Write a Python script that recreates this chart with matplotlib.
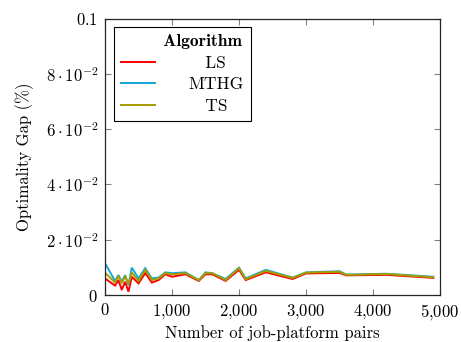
import matplotlib
matplotlib.use("Agg")
import matplotlib.pyplot as plt
from matplotlib.ticker import FixedLocator, FixedFormatter

plt.rcParams["font.family"] = ["cmr10"]
plt.rcParams["mathtext.fontset"] = "cm"
plt.rcParams["axes.formatter.use_mathtext"] = True

# Problem sizes (number of job-platform pairs)
pairs = [0, 150, 200, 250, 300, 350, 400, 500, 600, 700, 800, 900, 1000,
         1200, 1400, 1500, 1600, 1800, 2000, 2100, 2400, 2800, 3000, 3500,
         3600, 4200, 4900]

# Optimality gap (%) per algorithm
gap_ls = [0.0060, 0.0034, 0.0054, 0.0018, 0.0048, 0.0012, 0.0066, 0.0042,
          0.0079, 0.0045, 0.0054, 0.0075, 0.0066, 0.0075, 0.0051, 0.0075,
          0.0075, 0.0051, 0.0091, 0.0054, 0.0082, 0.0058, 0.0078, 0.0080,
          0.0071, 0.0073, 0.0062]
gap_mthg = [0.0115, 0.0051, 0.0072, 0.0048, 0.0072, 0.0036, 0.0099, 0.0060,
            0.0097, 0.0060, 0.0063, 0.0082, 0.0079, 0.0082, 0.0054, 0.0082,
            0.0079, 0.0058, 0.0099, 0.0060, 0.0091, 0.0063, 0.0082, 0.0086,
            0.0074, 0.0077, 0.0066]
gap_ts = [0.0081, 0.0045, 0.0069, 0.0042, 0.0069, 0.0039, 0.0081, 0.0051,
          0.0091, 0.0054, 0.0060, 0.0079, 0.0075, 0.0079, 0.0054, 0.0079,
          0.0079, 0.0054, 0.0097, 0.0057, 0.0087, 0.0062, 0.0081, 0.0084,
          0.0073, 0.0076, 0.0064]

series = [("LS", gap_ls, "#ff0000"),
          ("MTHG", gap_mthg, "#15a6d6"),
          ("TS", gap_ts, "#a89c00")]

x_ticks = [0, 1000, 2000, 3000, 4000, 5000]
x_tick_labels = ["$0$", "$1{,}000$", "$2{,}000$", "$3{,}000$", "$4{,}000$", "$5{,}000$"]
y_ticks = [0, 0.02, 0.04, 0.06, 0.08, 0.1]
y_tick_labels = ["$0$", r"$2\cdot10^{-2}$", r"$4\cdot10^{-2}$",
                 r"$6\cdot10^{-2}$", r"$8\cdot10^{-2}$", "$0.1$"]

fig = plt.figure(figsize=(4.61, 3.42), dpi=100)
ax = fig.add_axes([0.2278, 0.1374, 0.7266, 0.8079])

for name, vals, color in series:
    ax.plot(pairs, vals, color=color, lw=1.4, solid_joinstyle="miter")

ax.set_xlim(0, 5000)
ax.set_ylim(0, 0.1)
ax.xaxis.set_major_locator(FixedLocator(x_ticks))
ax.xaxis.set_major_formatter(FixedFormatter(x_tick_labels))
ax.yaxis.set_major_locator(FixedLocator(y_ticks))
ax.yaxis.set_major_formatter(FixedFormatter(y_tick_labels))
ax.tick_params(direction="in", length=4, width=0.8, color="#808080",
               top=True, right=True, labelsize=12, pad=5)
for sp in ax.spines.values():
    sp.set_linewidth(0.9)
    sp.set_color("#262626")

ax.set_xlabel("Number of job-platform pairs", fontsize=12, labelpad=2)
ax.set_ylabel("Optimality Gap (%)", fontsize=12, labelpad=8)

handles = [plt.Line2D([], [], color=c, lw=1.4) for _, _, c in series]
labels = ["   LS", "MTHG", "   TS"]
leg = ax.legend(handles, labels, loc="upper left", fontsize=12.5,
                title="       Algorithm", frameon=True, fancybox=False,
                edgecolor="black", framealpha=1, borderaxespad=0.5,
                handlelength=2.0, handletextpad=1.9, labelspacing=0.36,
                borderpad=0.4)
leg.get_frame().set_linewidth(0.8)
leg.get_title().set_fontfamily("cmb10")
leg.get_title().set_fontsize(12.5)

fig.savefig("out.png", dpi=100)
